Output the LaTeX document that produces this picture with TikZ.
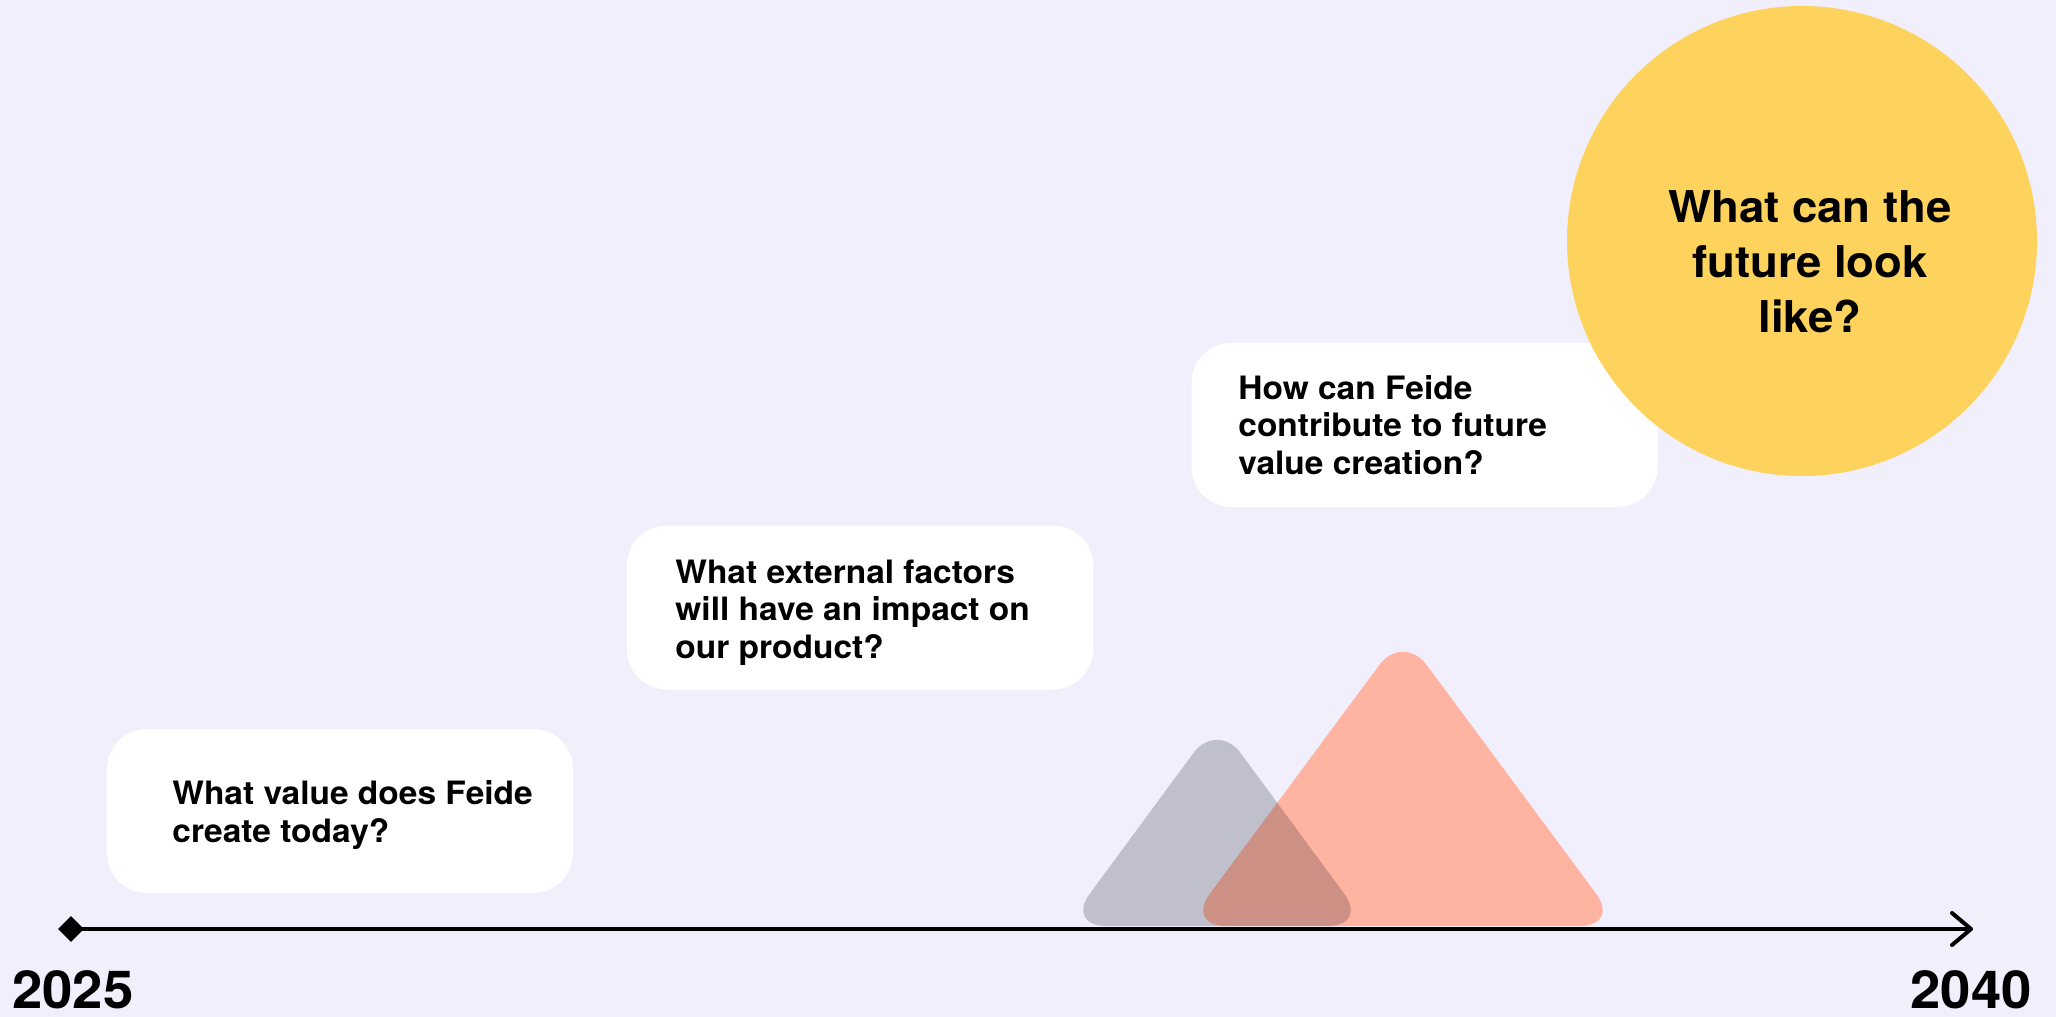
\documentclass[tikz,border=0pt]{standalone}
\usepackage{fontspec}
\setmainfont{TeX Gyre Heros}[FakeStretch=1.04]
\usetikzlibrary{arrows.meta,shapes.geometric}
\definecolor{bgc}{HTML}{F1EFFC}
\definecolor{sunc}{HTML}{FDD35D}
\definecolor{salmonc}{HTML}{FFB4A2}
\definecolor{shadec}{RGB}{0,0,15}
\tikzset{
  qbox/.style={draw=none, fill=white, rounded corners=20pt, minimum width=233pt, minimum height=82pt, inner sep=0pt},
  qtext/.style={anchor=base west, align=left, inner sep=0pt, font=\fontsize{16.1pt}{18.75pt}\selectfont\bfseries},
  year/.style={anchor=base west, inner sep=0pt, font=\fontsize{26.2pt}{30pt}\selectfont\bfseries},
  axis/.style={line width=2pt, -{Straight Barb[length=9.5pt, width=16pt, line cap=round, line join=round]}},
}
\begin{document}
\begin{tikzpicture}[x=0.5pt, y=-0.5pt]
\fill[bgc] (0,0) rectangle (2056,1017);
\useasboundingbox (0,0) rectangle (2056,1017);
% mountains
\fill[salmonc, rounded corners=20pt] (1186,926) -- (1403,633) -- (1620,926) -- cycle;
\fill[shadec, fill opacity=0.2, rounded corners=20pt] (1066,926) -- (1217,721) -- (1368,926) -- cycle;
% question boxes (text anchored at last baseline)
\node[qbox] (b1) at (340,811) {};
\node[qtext] (t1) at (172,842) {What value does Feide\\create today?};
\node[qbox] (b2) at (860,607.5) {};
\node[qtext] (t2) at (675,658) {What external factors\\will have an impact on\\our product?};
\node[qbox] (b3) at (1424.5,425) {};
\node[qtext] (t3) at (1238,474) {How can Feide\\contribute to future\\value creation?};
% future circle
\node[circle, fill=sunc, minimum size=235pt, inner sep=0pt] (fut) at (1802,241) {};
\node[anchor=base, align=center, inner sep=0pt, font=\fontsize{21.9pt}{27.3pt}\selectfont\bfseries] (futt) at (1810,332) {What can the\\future look\\like?};
% timeline
\node[diamond, fill=black, minimum size=13pt, inner sep=0pt] (start) at (71,929) {};
\coordinate (end) at (1973,929);
\draw[axis] (start.center) -- (end);
\node[year] (y1) at (12,1008) {2025};
\node[year] (y2) at (1910,1008) {2040};
\end{tikzpicture}
\end{document}
